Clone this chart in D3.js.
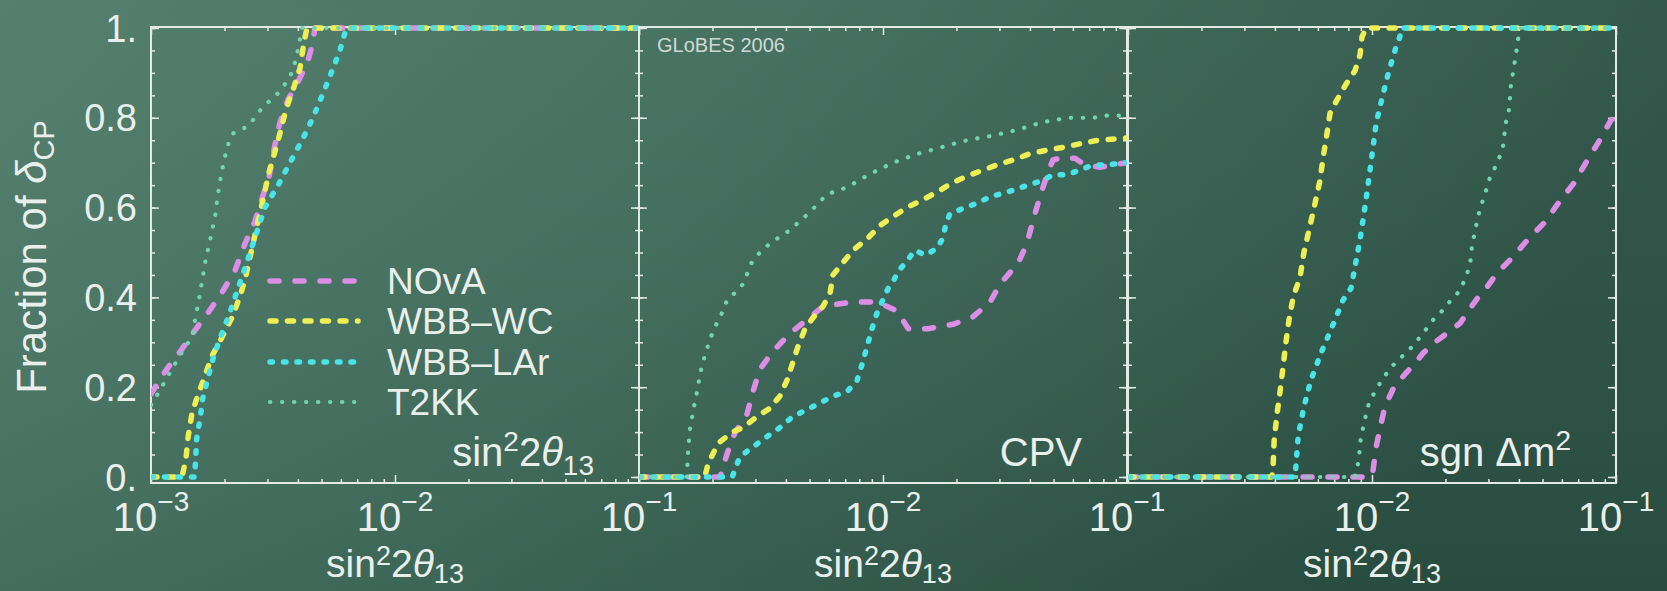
<!DOCTYPE html>
<html><head><meta charset="utf-8">
<script src="https://cdn.jsdelivr.net/npm/d3@7"></script>
<style>html,body{margin:0;padding:0;overflow:hidden;background:#3d6a5a}</style>
</head><body>
<script>
// ---------------- DATA ----------------
const seriesNames = ["NOvA", "WBB\u2013WC", "WBB\u2013LAr", "T2KK"];
const panelNames = ["theta13", "CPV", "sgn"];
const xTickValues = [1e-3, 1e-2, 1e-1];
const xTickExponents = ["\u22123", "\u22122", "\u22121"];
const yTickValues = [0, 0.2, 0.4, 0.6, 0.8, 1];
const yTickLabels = ["0.", "0.2", "0.4", "0.6", "0.8", "1."];

// panel 1 : sin^2 2theta13 discovery  [sin^2 2theta13, fraction of deltaCP]
const th13_NOvA = [[1.0e-3,0.185],[1.16e-3,0.24],[1.32e-3,0.28],[1.53e-3,0.33],[1.71e-3,0.365],[1.95e-3,0.41],[2.21e-3,0.46],[2.43e-3,0.52],[2.67e-3,0.57],[2.85e-3,0.62],[3.05e-3,0.67],[3.22e-3,0.74],[3.38e-3,0.79],[3.64e-3,0.84],[4.00e-3,0.88],[4.36e-3,0.92],[4.57e-3,0.96],[4.70e-3,1.0],[0.1,1.0]];
const th13_WC = [[1e-3,0],[1.34e-3,0],[1.39e-3,0.04],[1.42e-3,0.09],[1.47e-3,0.14],[1.53e-3,0.17],[1.65e-3,0.22],[1.78e-3,0.27],[1.95e-3,0.31],[2.17e-3,0.36],[2.34e-3,0.41],[2.43e-3,0.44],[2.62e-3,0.52],[2.83e-3,0.60],[3.05e-3,0.68],[3.32e-3,0.75],[3.58e-3,0.82],[3.86e-3,0.87],[4.08e-3,0.91],[4.24e-3,0.97],[4.36e-3,1.0],[0.1,1.0]];
const th13_LAr = [[1e-3,0],[1.51e-3,0],[1.52e-3,0.03],[1.54e-3,0.087],[1.59e-3,0.13],[1.63e-3,0.175],[1.71e-3,0.22],[1.80e-3,0.265],[1.92e-3,0.31],[2.07e-3,0.355],[2.21e-3,0.40],[2.34e-3,0.44],[2.62e-3,0.52],[2.93e-3,0.60],[3.32e-3,0.65],[3.71e-3,0.70],[4.16e-3,0.75],[4.61e-3,0.80],[5.12e-3,0.86],[5.57e-3,0.91],[5.95e-3,0.95],[6.24e-3,0.99],[6.36e-3,1.0],[0.1,1.0]];
const th13_T2KK = [[1.0e-3,0.16],[1.04e-3,0.175],[1.16e-3,0.22],[1.28e-3,0.26],[1.38e-3,0.29],[1.47e-3,0.31],[1.54e-3,0.37],[1.59e-3,0.41],[1.67e-3,0.48],[1.75e-3,0.53],[1.83e-3,0.58],[1.88e-3,0.63],[1.95e-3,0.68],[2.05e-3,0.735],[2.17e-3,0.765],[2.47e-3,0.78],[2.67e-3,0.80],[2.83e-3,0.82],[3.32e-3,0.855],[3.71e-3,0.89],[3.93e-3,0.93],[4.16e-3,1.0],[0.1,1.0]];

// panel 2 : CPV
const cpv_NOvA = [[1e-3,0],[2.15e-3,0],[2.30e-3,0.053],[2.47e-3,0.098],[2.77e-3,0.14],[2.93e-3,0.19],[3.13e-3,0.24],[3.54e-3,0.28],[4.16e-3,0.32],[4.88e-3,0.35],[5.68e-3,0.38],[7.54e-3,0.39],[9.45e-3,0.39],[1.14e-2,0.37],[1.27e-2,0.33],[1.52e-2,0.33],[1.94e-2,0.34],[2.34e-2,0.357],[2.75e-2,0.39],[3.02e-2,0.43],[3.58e-2,0.476],[3.89e-2,0.52],[4.12e-2,0.572],[4.40e-2,0.624],[4.70e-2,0.673],[4.97e-2,0.706],[5.31e-2,0.71],[6.12e-2,0.71],[6.73e-2,0.695],[7.75e-2,0.69],[0.1,0.70]];
const cpv_WC = [[1e-3,0],[1.86e-3,0],[1.92e-3,0.03],[2.11e-3,0.075],[2.41e-3,0.10],[2.67e-3,0.11],[3.05e-3,0.135],[3.44e-3,0.153],[3.78e-3,0.18],[4.04e-3,0.215],[4.24e-3,0.25],[4.48e-3,0.29],[4.79e-3,0.33],[5.17e-3,0.355],[5.68e-3,0.38],[6.07e-3,0.41],[6.24e-3,0.45],[6.79e-3,0.475],[7.54e-3,0.505],[8.60e-3,0.53],[9.72e-3,0.56],[1.10e-2,0.58],[1.25e-2,0.60],[1.45e-2,0.617],[1.67e-2,0.635],[1.92e-2,0.655],[2.21e-2,0.67],[2.55e-2,0.683],[2.93e-2,0.695],[3.41e-2,0.706],[4.00e-2,0.72],[4.70e-2,0.728],[5.57e-2,0.735],[6.54e-2,0.743],[7.61e-2,0.75],[0.1,0.755]];
const cpv_LAr = [[1e-3,0],[2.41e-3,0],[2.59e-3,0.045],[2.93e-3,0.067],[3.35e-3,0.09],[3.78e-3,0.11],[4.28e-3,0.135],[4.88e-3,0.15],[5.52e-3,0.165],[6.24e-3,0.18],[7.12e-3,0.19],[7.83e-3,0.215],[8.20e-3,0.25],[8.60e-3,0.29],[9.01e-3,0.33],[9.45e-3,0.365],[1.0e-2,0.395],[1.05e-2,0.42],[1.10e-2,0.435],[1.15e-2,0.457],[1.25e-2,0.48],[1.35e-2,0.505],[1.49e-2,0.494],[1.67e-2,0.51],[1.75e-2,0.53],[1.80e-2,0.557],[1.88e-2,0.587],[2.13e-2,0.598],[2.43e-2,0.61],[2.75e-2,0.624],[3.10e-2,0.632],[3.48e-2,0.64],[3.93e-2,0.65],[4.48e-2,0.66],[4.97e-2,0.673],[5.68e-2,0.673],[6.42e-2,0.684],[7.26e-2,0.695],[8.28e-2,0.695],[0.1,0.70]];
const cpv_T2KK = [[1e-3,0],[1.57e-3,0],[1.59e-3,0.06],[1.62e-3,0.11],[1.67e-3,0.15],[1.73e-3,0.19],[1.78e-3,0.23],[1.86e-3,0.27],[1.95e-3,0.305],[2.05e-3,0.335],[2.15e-3,0.355],[2.30e-3,0.395],[2.47e-3,0.41],[2.67e-3,0.43],[2.91e-3,0.48],[3.13e-3,0.50],[3.44e-3,0.52],[3.78e-3,0.535],[4.16e-3,0.55],[4.57e-3,0.57],[5.02e-3,0.59],[5.90e-3,0.63],[7.12e-3,0.645],[8.85e-3,0.675],[1.10e-2,0.70],[1.39e-2,0.72],[1.75e-2,0.735],[2.21e-2,0.75],[2.80e-2,0.76],[3.54e-2,0.773],[4.48e-2,0.79],[5.73e-2,0.80],[7.26e-2,0.80],[8.28e-2,0.805],[0.1,0.805]];

// panel 3 : sgn dm^2
const sgn_NOvA = [[1e-3,0],[9.91e-3,0],[1.01e-2,0.015],[1.04e-2,0.067],[1.08e-2,0.11],[1.13e-2,0.157],[1.23e-2,0.20],[1.37e-2,0.23],[1.50e-2,0.253],[1.62e-2,0.276],[1.81e-2,0.30],[2.03e-2,0.32],[2.30e-2,0.343],[2.50e-2,0.372],[2.72e-2,0.40],[2.96e-2,0.423],[3.25e-2,0.454],[3.78e-2,0.49],[4.40e-2,0.532],[5.12e-2,0.568],[5.84e-2,0.612],[6.73e-2,0.655],[7.53e-2,0.70],[8.44e-2,0.744],[9.54e-2,0.795],[0.1,0.80]];
const sgn_WC = [[1e-3,0],[3.89e-3,0],[3.93e-3,0.02],[3.97e-3,0.08],[4.08e-3,0.14],[4.20e-3,0.19],[4.32e-3,0.245],[4.44e-3,0.30],[4.57e-3,0.35],[4.75e-3,0.40],[5.07e-3,0.445],[5.26e-3,0.50],[5.52e-3,0.55],[5.79e-3,0.60],[6.12e-3,0.66],[6.30e-3,0.71],[6.54e-3,0.765],[6.73e-3,0.81],[7.19e-3,0.84],[7.83e-3,0.875],[8.52e-3,0.905],[8.93e-3,0.94],[9.10e-3,0.98],[9.45e-3,1.0],[0.1,1.0]];
const sgn_LAr = [[1e-3,0],[4.84e-3,0],[4.98e-3,0.09],[5.26e-3,0.156],[5.62e-3,0.216],[6.18e-3,0.276],[6.86e-3,0.334],[7.61e-3,0.394],[8.20e-3,0.42],[8.93e-3,0.528],[9.45e-3,0.617],[9.91e-3,0.70],[1.04e-2,0.788],[1.10e-2,0.844],[1.17e-2,0.902],[1.25e-2,0.955],[1.30e-2,0.98],[1.32e-2,1.0],[0.1,1.0]];
const sgn_T2KK = [[1e-3,0],[8.52e-3,0],[8.85e-3,0.04],[8.93e-3,0.075],[9.27e-3,0.12],[9.72e-3,0.165],[1.04e-2,0.195],[1.11e-2,0.22],[1.20e-2,0.245],[1.32e-2,0.267],[1.46e-2,0.29],[1.62e-2,0.32],[1.78e-2,0.35],[1.94e-2,0.37],[2.15e-2,0.40],[2.30e-2,0.415],[2.41e-2,0.443],[2.52e-2,0.47],[2.57e-2,0.515],[2.72e-2,0.58],[2.80e-2,0.605],[2.91e-2,0.63],[2.99e-2,0.657],[3.16e-2,0.684],[3.32e-2,0.71],[3.44e-2,0.735],[3.48e-2,0.76],[3.54e-2,0.79],[3.64e-2,0.817],[3.68e-2,0.847],[3.71e-2,0.873],[3.78e-2,0.90],[3.86e-2,0.93],[3.93e-2,0.958],[4.00e-2,0.99],[4.04e-2,1.0],[0.1,1.0]];

const panelData = [
  [th13_NOvA, th13_WC, th13_LAr, th13_T2KK],
  [cpv_NOvA, cpv_WC, cpv_LAr, cpv_T2KK],
  [sgn_NOvA, sgn_WC, sgn_LAr, sgn_T2KK]
];

// ---------------- STYLE ----------------
const W = 1667, H = 591;
const FONT = "'Liberation Sans', Arial, Helvetica, sans-serif";
const TXT = "#e9efea";
const FRAME = "#e3eae5";
const styles = [
  {color:"#dc8ee6", width:5.5, dash:"9,16"},
  {color:"#eeee55", width:5.5, dash:"6,11.5"},
  {color:"#48e4e8", width:5.5, dash:"2.5,11"},
  {color:"#72d4b0", width:4.2, dash:"0.3,11.7"}
];
const panelLeft = [151, 639, 1128];
const panelW = 488;
const frameTop = 27, frameBottom = 483;

const svg = d3.select("body").append("svg").attr("width", W).attr("height", H)
  .style("font-family", FONT);
const defs = svg.append("defs");
const bg = defs.append("linearGradient").attr("id","bg").attr("x1",0).attr("y1",0).attr("x2",1).attr("y2",0.25);
[[0,"#507c6a"],[0.45,"#416d5d"],[1,"#2b5144"]].forEach(([o,c]) => bg.append("stop").attr("offset",o).attr("stop-color",c));
const vg = defs.append("linearGradient").attr("id","vg").attr("x1",0).attr("y1",0).attr("x2",0).attr("y2",1);
vg.append("stop").attr("offset",0).attr("stop-color","#ffffff").attr("stop-opacity",0.03);
vg.append("stop").attr("offset",1).attr("stop-color","#000000").attr("stop-opacity",0.06);
svg.append("rect").attr("width",W).attr("height",H).attr("fill","url(#bg)");
svg.append("rect").attr("width",W).attr("height",H).attr("fill","url(#vg)");

const y = d3.scaleLinear().domain([-0.0134, 1.0022]).range([frameBottom, frameTop]);
const yMinor = d3.range(0, 1.0001, 0.05).map(v => +v.toFixed(2));

function minorLog(){
  const out = [];
  [1e-3, 1e-2].forEach(d => { for (let k = 2; k <= 9; k++) out.push(k*d); });
  return out;
}

function thetaLabel(t, base, sub, supDy, subDy){
  t.append("tspan").text("sin");
  t.append("tspan").attr("font-size", sub).attr("dy", supDy).text("2");
  t.append("tspan").attr("font-size", base).attr("dy", -supDy).text("2");
  t.append("tspan").attr("font-style","italic").text("\u03b8");
  t.append("tspan").attr("font-size", sub).attr("dy", subDy).text("13");
}

panelLeft.forEach((L, i) => {
  const x = d3.scaleLog().domain([1e-3, 1e-1]).range([L, L + panelW]);
  const g = svg.append("g");

  const addAxis = (axis, tf) => {
    const a = g.append("g").attr("transform", tf).call(axis);
    a.select(".domain").remove();
    a.selectAll("line").attr("stroke", FRAME).attr("stroke-width", 1.5);
    a.selectAll("text").remove();
  };
  addAxis(d3.axisBottom(x).tickValues(minorLog()).tickSize(-4), `translate(0,${frameBottom})`);
  addAxis(d3.axisBottom(x).tickValues(xTickValues).tickSize(-8), `translate(0,${frameBottom})`);
  addAxis(d3.axisTop(x).tickValues(minorLog()).tickSize(-4), `translate(0,${frameTop})`);
  addAxis(d3.axisTop(x).tickValues(xTickValues).tickSize(-8), `translate(0,${frameTop})`);
  addAxis(d3.axisLeft(y).tickValues(yMinor).tickSize(-4), `translate(${L},0)`);
  addAxis(d3.axisLeft(y).tickValues(yTickValues).tickSize(-8), `translate(${L},0)`);
  addAxis(d3.axisRight(y).tickValues(yMinor).tickSize(-4), `translate(${L+panelW},0)`);
  addAxis(d3.axisRight(y).tickValues(yTickValues).tickSize(-8), `translate(${L+panelW},0)`);

  g.append("rect").attr("x", L).attr("y", frameTop).attr("width", panelW).attr("height", frameBottom - frameTop)
    .attr("fill","none").attr("stroke", FRAME).attr("stroke-width", 2);

  defs.append("clipPath").attr("id", "clip" + i).append("rect")
    .attr("x", L).attr("y", frameTop - 8).attr("width", panelW).attr("height", frameBottom - frameTop + 8);

  const line = d3.line().x(d => x(d[0])).y(d => y(d[1]));
  const cg = g.append("g").attr("clip-path", `url(#clip${i})`);
  panelData[i].forEach((data, s) => {
    cg.append("path").datum(data).attr("d", line)
      .attr("fill","none").attr("stroke", styles[s].color).attr("stroke-width", styles[s].width)
      .attr("stroke-dasharray", styles[s].dash).attr("stroke-linecap","round").attr("stroke-linejoin","round");
  });

  // x tick labels
  xTickValues.forEach((v, k) => {
    if (i > 0 && k === 0) return;
    const t = svg.append("text").attr("x", x(v)).attr("y", 531).attr("text-anchor","middle")
      .attr("fill", TXT).attr("font-size", 40);
    t.append("tspan").text("10");
    t.append("tspan").attr("font-size", 28).attr("dy", -20).text(xTickExponents[k]);
  });

  // x axis title
  const xt = svg.append("text").attr("x", L + panelW/2).attr("y", 577).attr("text-anchor","middle")
    .attr("fill", TXT).attr("font-size", 39);
  thetaLabel(xt, 39, 27, -12, 6);

  // in-panel label
  const pl = svg.append("text").attr("x", L + panelW - 45).attr("y", 466).attr("text-anchor","end")
    .attr("fill", TXT).attr("font-size", 40);
  if (panelNames[i] === "theta13") {
    thetaLabel(pl, 40, 28, -15, 9);
  } else if (panelNames[i] === "CPV") {
    pl.text("CPV");
  } else {
    pl.append("tspan").text("sgn \u0394m");
    pl.append("tspan").attr("font-size", 28).attr("dy", -16).text("2");
  }
});

// y tick labels
yTickValues.forEach((v, k) => {
  svg.append("text").attr("x", 137).attr("y", y(v)).attr("dy", "0.36em").attr("text-anchor","end")
    .attr("fill", TXT).attr("font-size", 38).text(yTickLabels[k]);
});

// y axis title
const yt = svg.append("text").attr("transform", "translate(46,257) rotate(-90)").attr("text-anchor","middle")
  .attr("fill", TXT).attr("font-size", 42);
yt.append("tspan").text("Fraction of ");
yt.append("tspan").attr("font-style","italic").text("\u03b4");
yt.append("tspan").attr("font-size", 29).attr("dy", 8).text("CP");

// GLoBES stamp
svg.append("text").attr("x", 657).attr("y", 52).attr("fill", "#cfd9d3").attr("font-size", 20).text("GLoBES 2006");

// legend
const legendY = [281, 321, 362, 402];
seriesNames.forEach((name, s) => {
  svg.append("line").attr("x1", 270).attr("x2", 358).attr("y1", legendY[s]).attr("y2", legendY[s])
    .attr("stroke", styles[s].color).attr("stroke-width", styles[s].width)
    .attr("stroke-dasharray", styles[s].dash).attr("stroke-linecap","round");
  svg.append("text").attr("x", 387).attr("y", legendY[s] + 13).attr("fill", TXT).attr("font-size", 37).text(name);
});
</script>
</body></html>
